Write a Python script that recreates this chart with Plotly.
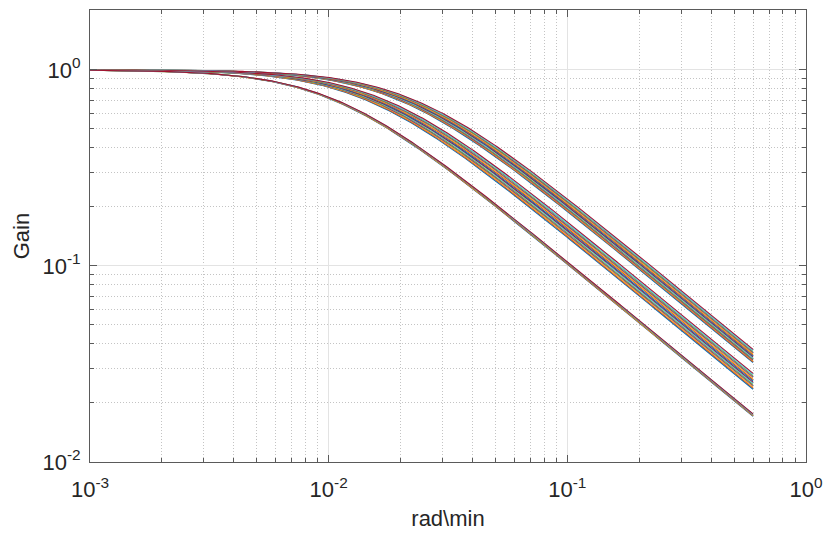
import numpy as np
import plotly.graph_objects as go

# Time constants (min) of the first-order lags, three families of models
T_fast = [44.4, 45.0, 45.6, 46.1, 46.7, 47.3, 47.9, 48.5, 49.1, 49.7, 50.3, 50.8, 51.3, 51.8][::-1]
T_mid = [58.8, 59.7, 60.6, 61.5, 62.4, 63.3, 64.3, 65.2, 66.1, 67.1, 68.0, 69.0, 70.0, 70.9][::-1]
T_slow = [94.7, 95.1, 95.6, 96.0, 96.5, 97.0, 97.5][::-1]

# Frequency grid (rad/min)
w_min, w_max, n_pts = 1e-3, 0.6, 400
w = np.logspace(np.log10(w_min), np.log10(w_max), n_pts)

# MATLAB default line colour order
colors = ["#0072BD", "#D95319", "#EDB120", "#7E2F8E", "#77AC30", "#4DBEEE", "#A2142F"]

x_major = [1e-3, 1e-2, 1e-1, 1e0]
x_major_text = ["10<sup>-3</sup>", "10<sup>-2</sup>", "10<sup>-1</sup>", "10<sup>0</sup>"]
y_major = [1e-2, 1e-1, 1e0]
y_major_text = ["10<sup>-2</sup>", "10<sup>-1</sup>", "10<sup>0</sup>"]

x_minor = [m * 10.0 ** e for e in (-3, -2, -1) for m in range(2, 10)]
y_minor = [m * 10.0 ** e for e in (-2, -1, 0) for m in range(2, 10) if m * 10.0 ** e <= 2.02]

fig = go.Figure()
k = 0
for group in (T_fast, T_mid, T_slow):
    for T in group:
        gain = 1.0 / np.sqrt(1.0 + (w * T) ** 2)
        fig.add_trace(go.Scatter(
            x=w, y=gain, mode="lines",
            line=dict(color=colors[k % 7], width=1.1),
            showlegend=False, hoverinfo="skip",
        ))
        k += 1

text_color = "#262626"
line_color = "#5a5a5a"
font_family = "Liberation Sans, Arial, sans-serif"
common = dict(
    type="log",
    showline=True, linecolor=line_color, linewidth=1, mirror="ticks",
    ticks="inside", ticklen=7, tickcolor=line_color, tickwidth=1,
    showgrid=True, gridcolor="#e3e3e3", gridwidth=1,
    zeroline=False,
    tickfont=dict(family=font_family, size=22, color=text_color),
    title_font=dict(family=font_family, size=22, color=text_color),
)
minor_style = dict(tickmode="array", ticks="inside", ticklen=4, tickcolor=line_color,
                   showgrid=True, griddash="1px,2px", gridcolor="#c4c4c4", gridwidth=1)

fig.update_xaxes(
    **common,
    range=[-3, 0],
    tickmode="array", tickvals=x_major, ticktext=x_major_text,
    ticklabelstandoff=8,
    minor=dict(tickvals=x_minor, **minor_style),
    title=dict(text="rad\\min", standoff=9),
)
fig.update_yaxes(
    **common,
    range=[-2, 0.305],
    tickmode="array", tickvals=y_major, ticktext=y_major_text,
    ticklabelstandoff=4,
    minor=dict(tickvals=y_minor, **minor_style),
    title=dict(text="Gain", standoff=6),
)

fig.update_layout(
    width=825, height=535,
    margin=dict(l=90, r=19, t=10, b=73, autoexpand=False),
    paper_bgcolor="white", plot_bgcolor="white",
)

fig.write_html("out.html")
